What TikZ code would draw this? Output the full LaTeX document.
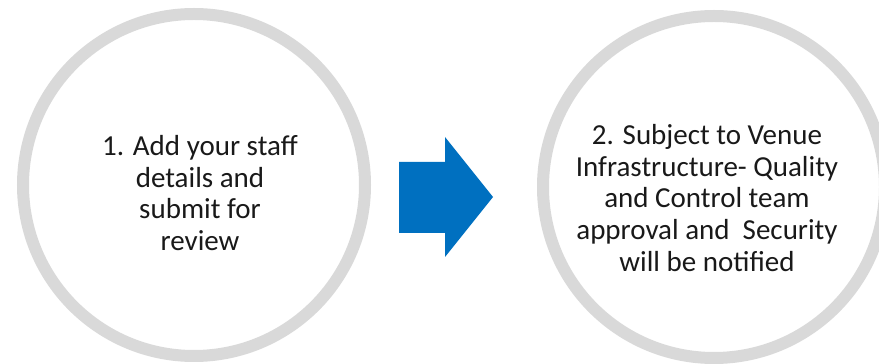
\documentclass[tikz,border=0pt]{standalone}
\usepackage{fontspec}
\setmainfont{Carlito}
\usetikzlibrary{positioning}
\definecolor{ringgray}{HTML}{D9D9D9}
\definecolor{stepblue}{HTML}{0070C0}
\tikzstyle{ring} = [draw=ringgray, line width=12pt, circle, inner sep=0pt, minimum size=342pt]
\tikzstyle{steptext} = [align=center, font=\fontsize{29}{31.8}\selectfont, text=black!90]

\begin{document}
\begin{tikzpicture}[x=1pt,y=1pt]
\useasboundingbox (0,0) rectangle (879,364);
\clip (0,0) rectangle (879,364);

\node[ring] (c1) at (194,179) {};
\node[ring] (c2) at (714,177) {};

\node[steptext] (t1) at (200,171) {1. Add your staff\\details and\\submit for\\review};
\node[steptext] (t2) at (707,166) {2. Subject to Venue\\Infrastructure- Quality\\and Control team\\approval and~ Security\\will be notified};

% arrow between the two steps
\fill[stepblue] (399,202) -- (445,202) -- (445,227) -- (493,167) -- (445,107) -- (445,131) -- (399,131) -- cycle;
\end{tikzpicture}
\end{document}
